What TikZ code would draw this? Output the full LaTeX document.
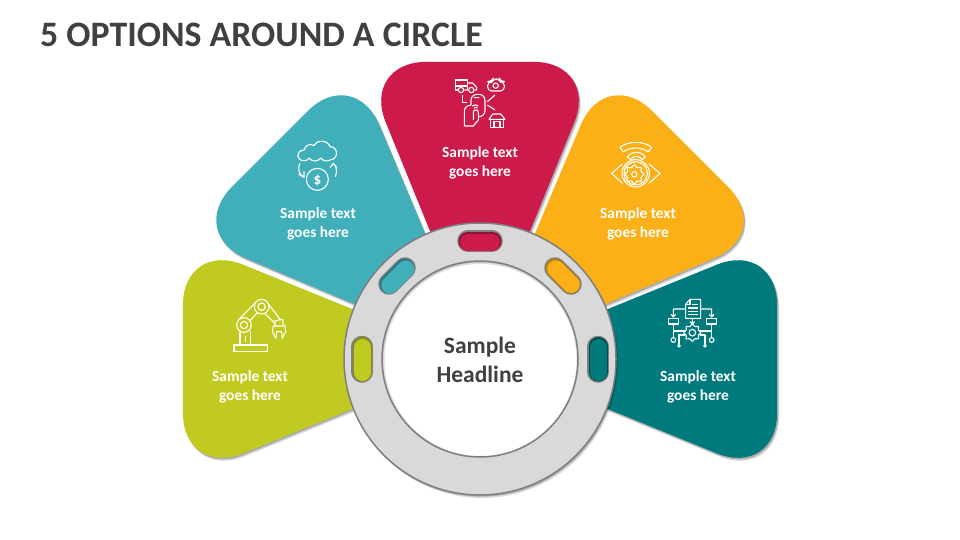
\documentclass[tikz,border=0pt]{standalone}
\usepackage{fontspec}
\setmainfont{Carlito}
\usetikzlibrary{shadows,shapes.geometric}
\definecolor{crimson}{RGB}{204,26,74}
\definecolor{aqua}{RGB}{64,175,186}
\definecolor{amber}{RGB}{250,176,22}
\definecolor{olive}{RGB}{192,202,33}
\definecolor{deepteal}{RGB}{0,122,124}
\definecolor{ringfill}{RGB}{217,217,217}
\definecolor{ringedge}{RGB}{127,127,127}
\definecolor{inkdark}{RGB}{64,64,64}
\tikzset{
  softshadow/.style={
    general shadow={shadow xshift=2pt,shadow yshift=-3pt,fill=black,opacity=.14},
    general shadow={shadow xshift=1.2pt,shadow yshift=-1.6pt,fill=black,opacity=.22}},
  petal/.style={softshadow,rounded corners=65},
  petaltext/.style={text=white,align=center,font=\fontsize{15.4}{19}\selectfont\bfseries},
  slotedge/.style={ringedge,line width=21.5,line cap=round},
  slotdark/.style={line width=19,line cap=round},
  slotfill/.style={line width=17,line cap=round},
  icon/.style={white,line width=1.1pt,line join=round},
  geartooth/.style={draw=white,line width=1.1pt,star,star point ratio=1.4,rounded corners=.7pt,inner sep=0pt}
}
\begin{document}
\begin{tikzpicture}[x=1pt,y=-1pt]
  \useasboundingbox (0,0) rectangle (960,540);
  \node[anchor=west,inner sep=0pt,text=inkdark,font=\fontsize{35.8}{38}\selectfont\bfseries] (title) at (40,35) {5 OPTIONS AROUND A CIRCLE};

  % petals
  \begin{scope}[shift={(480,359)}]
    \fill[petal,olive] (180:5) -- (180-21.8:320) -- (180+21.8:320) -- cycle;
    \fill[petal,aqua] (225:5) -- (225-21.8:320) -- (225+21.8:320) -- cycle;
    \fill[petal,crimson] (270:5) -- (270-21.8:320) -- (270+21.8:320) -- cycle;
    \fill[petal,amber] (315:5) -- (315-21.8:320) -- (315+21.8:320) -- cycle;
    \fill[petal,deepteal] (0:5) -- (-21.8:320) -- (21.8:320) -- cycle;
  \end{scope}

  % ring
  \filldraw[softshadow,fill=ringfill,draw=ringedge,line width=1.5] (480,359) circle (136);
  \fill[white] (480,359) circle (98);
  \begin{scope}
    \clip (480,359) circle (98);
    \draw[black,opacity=.12,line width=8] (480.5,360) circle (100);
    \draw[black,opacity=.18,line width=5] (480.5,360) circle (100);
  \end{scope}
  \draw[ringedge,line width=1.5] (480,359) circle (98);

  % slots in the ring
  \draw[slotedge] (468,241) -- (492,241);
  \draw[slotdark,crimson!70!black] (468,241) -- (492,241);
  \draw[slotfill,crimson] (468.5,242) -- (491.5,242);
  \draw[slotedge] (389,284) -- (405,268);
  \draw[slotdark,aqua!70!black] (389,284) -- (405,268);
  \draw[slotfill,aqua] (389.8,285) -- (405.8,269);
  \draw[slotedge] (555,268) -- (571,284);
  \draw[slotdark,amber!75!black] (555,268) -- (571,284);
  \draw[slotfill,amber] (555.8,269) -- (571.2,284.4);
  \draw[slotedge] (362,346.5) -- (362,372);
  \draw[slotdark,olive!70!black] (362,346.5) -- (362,372);
  \draw[slotfill,olive] (362.7,347.5) -- (362.7,372.5);
  \draw[slotedge] (598,346.5) -- (598,372);
  \draw[slotdark,deepteal!60!black] (598,346.5) -- (598,372);
  \draw[slotfill,deepteal] (598.7,347.5) -- (598.7,372.5);

  % texts
  \node[text=inkdark,align=center,font=\fontsize{23.5}{29}\selectfont\bfseries] (headline) at (480,360) {Sample\\Headline};
  \node[petaltext] (textred) at (480,163) {Sample text\\goes here};
  \node[petaltext] (textaqua) at (318,224) {Sample text\\goes here};
  \node[petaltext] (textamber) at (638,224) {Sample text\\goes here};
  \node[petaltext] (textolive) at (250,387) {Sample text\\goes here};
  \node[petaltext] (textteal) at (698,387) {Sample text\\goes here};

  % phone icon
  \begin{scope}[shift={(370,55)},scale=1/3]
    \draw[icon] (263,105) -- (257,105) -- (257,75) -- (292,75) -- (292,105) (257,93) -- (292,93);
    \draw[icon] (292,84) -- (308,84) -- (320,97) -- (320,105) -- (313,105) (283,105) -- (295,105);
    \draw[icon] (273,105) circle (8) (304,105) circle (8);
    \draw[icon,rounded corners=4] (353,80) -- (365,80) -- (369,72) -- (388,72) -- (392,80) -- (403,80) -- (403,108) -- (353,108) -- cycle;
    \draw[icon] (377,92) circle (8);
    \draw[icon] (278,120) -- (278,142) -- (290,142);
    \draw[icon,rounded corners=6] (303,150) -- (303,118) -- (345,118) -- (345,185) -- (326,185);
    \draw[icon] (312,128) -- (328,128) (307,153) arc (230:310:14) (312,159) arc (230:310:8);
    \draw[icon] (352,140) -- (375,120) (352,150) -- (375,165);
    \draw[icon] (283,213) -- (283,170) .. controls (283,158) and (290,152) .. (303,150);
    \draw[icon] (310,195) -- (310,172) .. controls (311,162) and (325,162) .. (325,172) -- (325,195) -- (310,213) -- (283,213);
    \draw[icon] (357,193) -- (368,177) -- (392,177) -- (405,193) -- cycle;
    \draw[icon] (362,193) -- (362,217) -- (400,217) -- (400,193);
    \draw[icon] (372,217) -- (372,200) -- (390,200) -- (390,217);
  \end{scope}

  % cloud and coin icon
  \begin{scope}[shift={(280,130)},scale=1/3]
    \draw[icon] (72,92) .. controls (48,92) and (46,62) .. (72,60) .. controls (76,44) and (92,40) .. (102,47) .. controls (112,26) and (146,32) .. (150,50) .. controls (176,50) and (176,88) .. (150,90) .. controls (140,96) and (128,92) .. (122,84) .. controls (115,96) and (95,96) .. (88,84) .. controls (84,90) and (78,92) .. (72,92);
    \draw[icon] (112,148) circle (33);
    \draw[icon] (59,100) .. controls (52,118) and (58,134) .. (72,142) (56,133) -- (72,142) -- (72,124);
    \draw[icon] (166,140) .. controls (172,124) and (170,110) .. (160,100) (150,113) -- (160,100) -- (170,112);
    \node[text=white,font=\fontsize{15}{15}\selectfont\bfseries] (dollar) at (112,150) {\$};
  \end{scope}

  % eye icon
  \begin{scope}[shift={(600,130)},scale=1/3]
    \draw[icon] (60,52) .. controls (85,32) and (130,32) .. (155,52) -- (145,66) .. controls (125,50) and (90,50) .. (70,66) -- cycle;
    \draw[icon] (82,80) .. controls (98,62) and (120,62) .. (136,80) -- (127,89) .. controls (116,76) and (102,76) .. (92,89) -- cycle;
    \draw[icon] (107,130) circle (41);
    \draw[icon] (107,130) circle (35);
    \draw[icon] (67,102) -- (35,130) -- (67,160) (147,102) -- (180,130) -- (147,160);
    \node[geartooth,star points=8,minimum size=20pt] (geareye) at (103,133) {};
    \draw[icon] (103,133) circle (8);
  \end{scope}

  % robot arm icon
  \begin{scope}[shift={(220,290)},scale=1/3]
    \draw[icon] (42,165) rectangle (143,185);
    \draw[icon] (60,127) -- (60,165) (92,122) -- (92,165) (76,137) -- (76,155);
    \draw[icon] (72,105) circle (22) (72,105) circle (11);
    \draw[icon] (125,50) circle (22) (125,50) circle (11);
    \draw[icon] (57,88) -- (107,37) (90,92) -- (112,68);
    \draw[icon] (145,42) -- (182,90) (134,70) -- (165,100);
    \draw[icon] (165,108) -- (165,92) -- (188,88) -- (190,108);
    \draw[icon] (160,108) -- (157,125) -- (168,145) -- (170,125) -- (185,125) -- (187,145) -- (197,125) -- (195,108) -- cycle;
  \end{scope}

  % document and gear icon
  \begin{scope}[shift={(655,295)},scale=1/3]
    \draw[icon] (92,28) -- (105,13) -- (137,13) -- (137,70) -- (92,70) -- cycle;
    \draw[icon] (92,28) -- (105,28) -- (105,13);
    \draw[icon] (112,28) -- (130,28) (100,39) -- (130,39) (100,49) -- (130,49) (100,59) -- (130,59);
    \draw[icon] (112,70) -- (112,86) (105,80) -- (112,87) -- (119,80);
    \draw[icon] (92,42) -- (55,42) -- (55,65) (48,58) -- (55,66) -- (62,58);
    \draw[icon] (137,42) -- (170,42) -- (170,65) (163,58) -- (170,66) -- (177,58);
    \draw[icon] (40,70) rectangle (70,87) (155,70) rectangle (185,87);
    \node[geartooth,star points=8,minimum size=18pt] (geardoc) at (112,113) {};
    \draw[icon] (112,113) circle (10);
    \draw[icon] (55,87) -- (55,128) (55,108) -- (90,108) (90,120) -- (72,120) -- (72,148);
    \draw[icon] (170,87) -- (170,128) (170,108) -- (135,108) (135,120) -- (150,120) -- (150,148);
    \draw[icon] (55,135) circle (7) (72,152) circle (4) (170,135) circle (7) (150,152) circle (4);
  \end{scope}
\end{tikzpicture}
\end{document}
